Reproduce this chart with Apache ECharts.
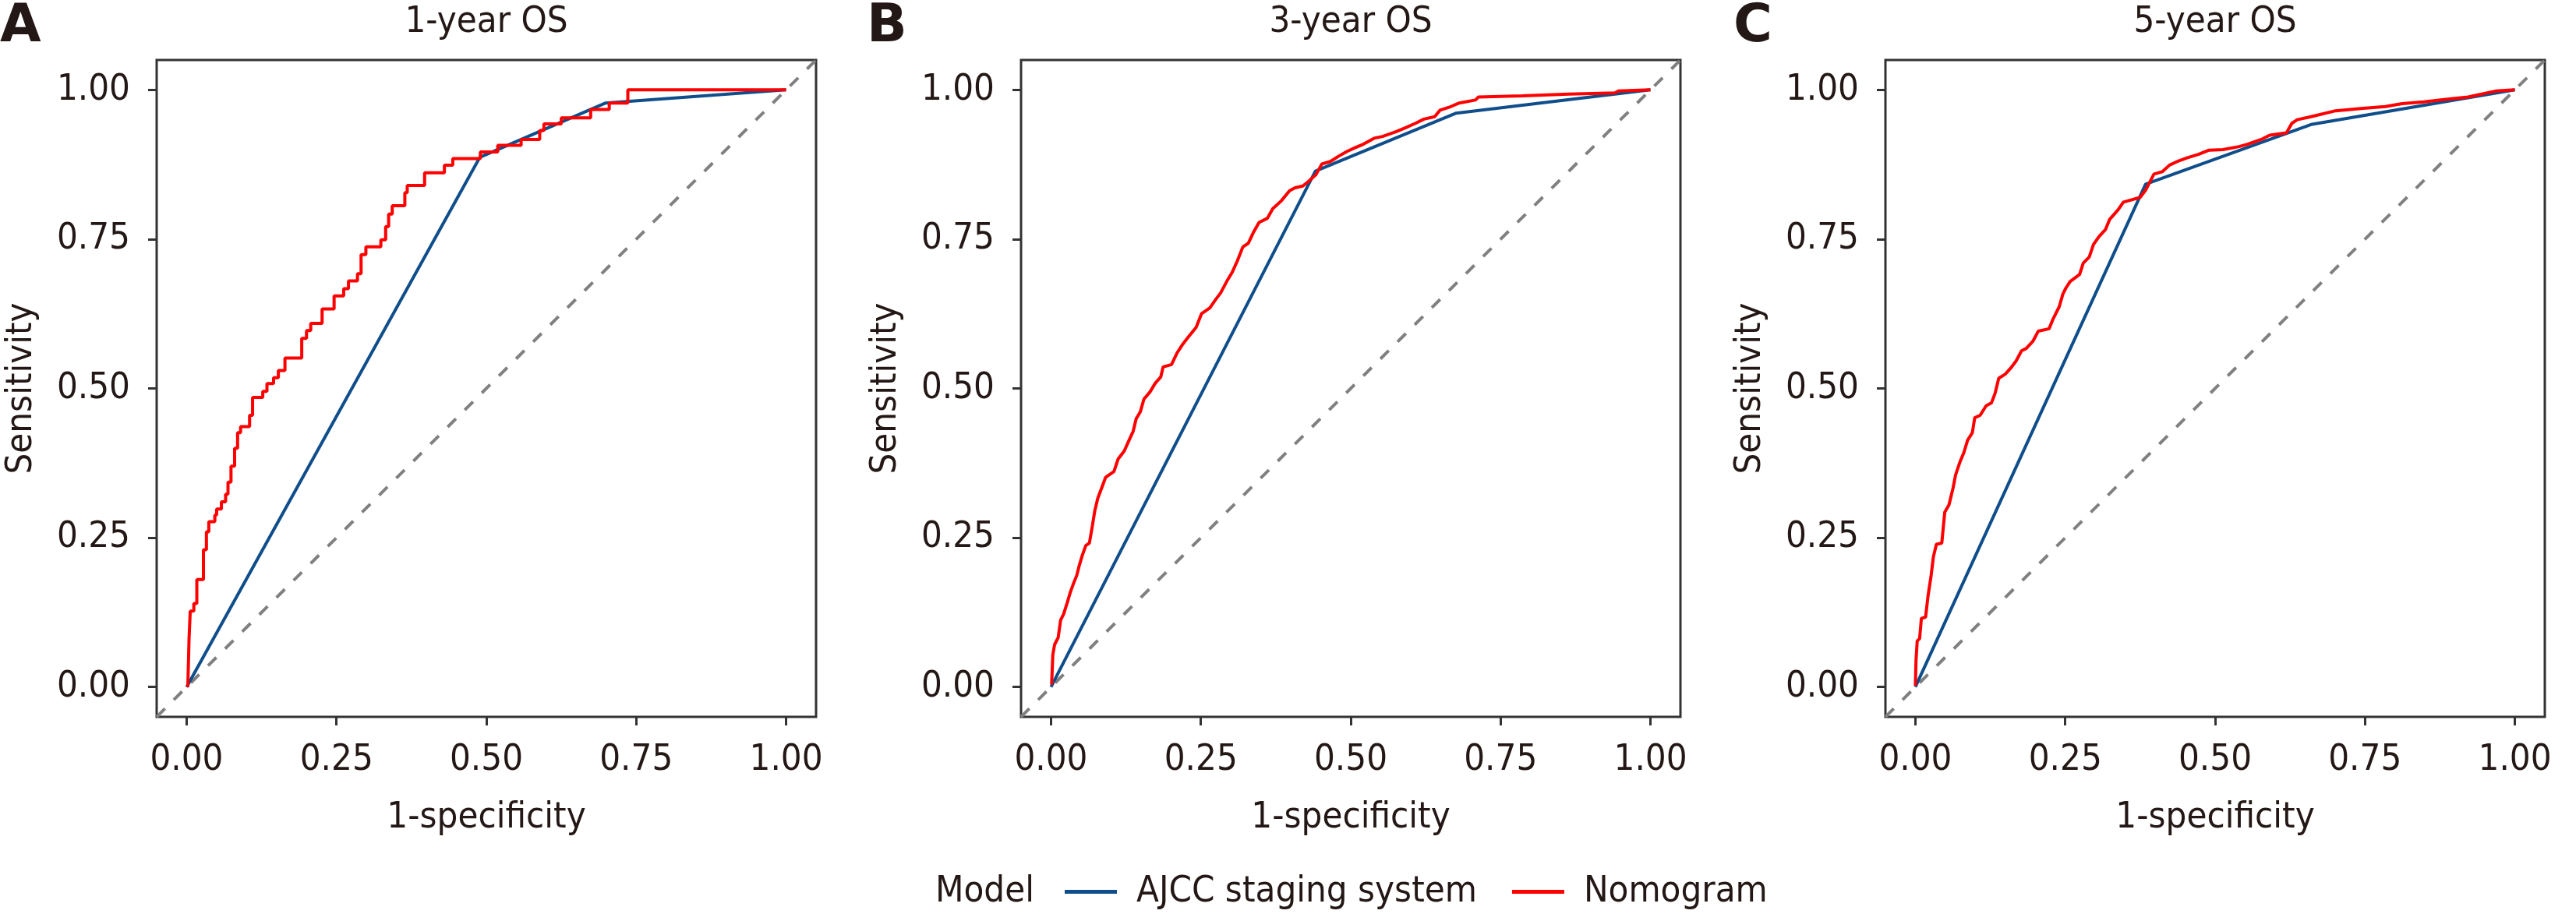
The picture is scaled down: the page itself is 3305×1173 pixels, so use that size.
<!DOCTYPE html>
<html>
<head>
<meta charset="utf-8">
<script src="https://cdn.jsdelivr.net/npm/echarts@6/dist/echarts.min.js"></script>
<style>
html,body{margin:0;padding:0;background:#fff;}
#chart{width:3305px;height:1173px;}
</style>
</head>
<body>
<div id="chart"></div>
<script>
// ---------- data ----------
const tickValues = [0, 0.25, 0.5, 0.75, 1];
const panelTitles = ['1-year OS', '3-year OS', '5-year OS'];
const panelLetters = ['A', 'B', 'C'];
const seriesNames = ['AJCC staging system', 'Nomogram'];
const diagonal = [[-0.05, -0.05], [1.05, 1.05]];

// AJCC staging system (piecewise linear ROC)
const ajcc1y = [[0, 0], [0.489, 0.887], [0.699, 0.978], [1, 1]];
const ajcc3y = [[0, 0], [0.441, 0.864], [0.676, 0.961], [1, 1]];
const ajcc5y = [[0, 0], [0.384, 0.842], [0.660, 0.942], [1, 1]];

// Nomogram 1-year (step points: x where the rise happens, y after the rise)
const nomo1y = [
  [0.002, 0], [0.004, 0.08], [0.006, 0.127], [0.012, 0.14], [0.017, 0.18], [0.028, 0.23],
  [0.033, 0.26], [0.037, 0.277], [0.047, 0.288], [0.050, 0.298], [0.058, 0.31], [0.065, 0.323],
  [0.069, 0.343], [0.074, 0.37], [0.080, 0.40], [0.085, 0.426], [0.090, 0.436], [0.105, 0.455],
  [0.110, 0.485], [0.127, 0.495], [0.134, 0.508], [0.145, 0.518], [0.153, 0.53], [0.164, 0.551],
  [0.192, 0.584], [0.200, 0.597], [0.207, 0.609], [0.226, 0.633], [0.246, 0.655], [0.262, 0.667],
  [0.270, 0.68], [0.285, 0.692], [0.291, 0.724], [0.299, 0.737], [0.324, 0.749], [0.332, 0.771],
  [0.337, 0.792], [0.343, 0.806], [0.364, 0.828], [0.368, 0.84], [0.397, 0.861], [0.430, 0.874],
  [0.444, 0.885], [0.490, 0.896], [0.519, 0.907], [0.558, 0.917], [0.589, 0.932], [0.596, 0.943],
  [0.625, 0.953], [0.674, 0.967], [0.705, 0.978], [0.736, 1.0], [1.0, 1.0]
];

// Nomogram 3-year
const nomo3y = [
  [0.001, 0.004], [0.003, 0.054], [0.006, 0.071], [0.012, 0.083], [0.016, 0.112], [0.021, 0.122],
  [0.027, 0.141], [0.032, 0.158], [0.037, 0.172], [0.043, 0.187], [0.047, 0.203], [0.052, 0.220],
  [0.058, 0.237], [0.064, 0.241], [0.069, 0.270], [0.073, 0.295], [0.078, 0.316], [0.084, 0.332],
  [0.091, 0.351], [0.105, 0.361], [0.112, 0.382], [0.122, 0.395], [0.131, 0.415], [0.137, 0.428],
  [0.142, 0.449], [0.149, 0.461], [0.155, 0.482], [0.165, 0.494], [0.174, 0.509], [0.183, 0.519],
  [0.187, 0.536], [0.201, 0.540], [0.210, 0.559], [0.219, 0.573], [0.229, 0.586], [0.242, 0.602],
  [0.251, 0.625], [0.265, 0.635], [0.274, 0.648], [0.283, 0.660], [0.293, 0.679], [0.302, 0.694],
  [0.311, 0.714], [0.320, 0.737], [0.329, 0.743], [0.338, 0.762], [0.347, 0.778], [0.361, 0.785],
  [0.370, 0.801], [0.384, 0.814], [0.398, 0.831], [0.407, 0.836], [0.420, 0.839], [0.430, 0.847],
  [0.442, 0.858], [0.452, 0.876], [0.466, 0.880], [0.480, 0.889], [0.494, 0.897], [0.507, 0.903],
  [0.521, 0.909], [0.539, 0.919], [0.553, 0.922], [0.576, 0.930], [0.590, 0.936], [0.608, 0.944],
  [0.622, 0.951], [0.640, 0.955], [0.649, 0.966], [0.667, 0.972], [0.681, 0.978], [0.708, 0.983],
  [0.713, 0.988], [0.786, 0.990], [0.864, 0.993], [0.941, 0.995], [0.946, 0.998], [1.0, 1.0]
];

// Nomogram 5-year
const nomo5y = [
  [0.000, 0.002], [0.001, 0.044], [0.003, 0.077], [0.007, 0.081], [0.010, 0.115], [0.017, 0.117],
  [0.021, 0.152], [0.026, 0.185], [0.030, 0.218], [0.035, 0.239], [0.044, 0.241], [0.049, 0.293],
  [0.056, 0.305], [0.063, 0.334], [0.067, 0.355], [0.074, 0.376], [0.081, 0.393], [0.087, 0.413],
  [0.095, 0.426], [0.099, 0.451], [0.108, 0.455], [0.118, 0.471], [0.127, 0.476], [0.133, 0.492],
  [0.139, 0.517], [0.150, 0.524], [0.159, 0.534], [0.168, 0.546], [0.177, 0.563], [0.185, 0.567],
  [0.196, 0.579], [0.205, 0.596], [0.223, 0.600], [0.230, 0.617], [0.240, 0.637], [0.246, 0.658],
  [0.251, 0.668], [0.258, 0.679], [0.274, 0.691], [0.280, 0.710], [0.290, 0.720], [0.297, 0.741],
  [0.306, 0.754], [0.317, 0.766], [0.324, 0.783], [0.338, 0.799], [0.347, 0.812], [0.361, 0.816],
  [0.375, 0.820], [0.384, 0.832], [0.398, 0.859], [0.412, 0.863], [0.424, 0.874], [0.439, 0.881],
  [0.453, 0.886], [0.472, 0.892], [0.490, 0.899], [0.513, 0.900], [0.540, 0.905], [0.554, 0.909],
  [0.577, 0.917], [0.591, 0.924], [0.619, 0.928], [0.628, 0.944], [0.637, 0.950], [0.660, 0.955],
  [0.701, 0.965], [0.747, 0.969], [0.784, 0.972], [0.812, 0.977], [0.848, 0.980], [0.885, 0.984],
  [0.922, 0.988], [0.954, 0.995], [0.968, 0.998], [1.0, 1.0]
];

const ajccData = [ajcc1y, ajcc3y, ajcc5y];
const nomoData = [nomo1y, nomo3y, nomo5y];
const nomoStep = ['end', false, false];

// ---------- styling / layout ----------
const FONT = '"DejaVu Sans Condensed", "Noto Sans", sans-serif';
const TEXT = '#231815';
const AXISC = '#333333';
const BLUE = '#104E8B';
const RED = '#FF0000';
const GRID_LEFT = [201, 1310, 2419];
const GRID_TOP = 77, GRID_W = 846, GRID_H = 843;

const grids = [], xAxes = [], yAxes = [], series = [], titles = [], graphics = [];
for (let i = 0; i < 3; i++) {
  grids.push({
    left: GRID_LEFT[i], top: GRID_TOP, width: GRID_W, height: GRID_H,
    show: true, borderColor: AXISC, borderWidth: 3, backgroundColor: '#fff'
  });
  const axisCommon = {
    type: 'value', min: -0.05, max: 1.05, gridIndex: i,
    axisLine: { show: false, onZero: false },
    axisTick: { show: true, customValues: tickValues, length: 11, lineStyle: { color: AXISC, width: 3 } },
    axisLabel: { customValues: tickValues, formatter: v => v.toFixed(2), color: TEXT, fontSize: 47, fontFamily: FONT },
    splitLine: { show: false },
    nameLocation: 'middle',
    nameTextStyle: { color: TEXT, fontSize: 47, fontFamily: FONT }
  };
  xAxes.push(Object.assign({}, axisCommon, {
    name: '1-specificity', nameGap: 106, position: 'bottom',
    axisLabel: Object.assign({}, axisCommon.axisLabel, { margin: 32 })
  }));
  yAxes.push(Object.assign({}, axisCommon, {
    name: 'Sensitivity', nameGap: 150, position: 'left',
    axisLabel: Object.assign({}, axisCommon.axisLabel, { margin: 34 })
  }));
  series.push({
    type: 'line', xAxisIndex: i, yAxisIndex: i, data: diagonal, showSymbol: false, silent: true,
    lineStyle: { color: '#808080', width: 4, type: [15, 16] }, clip: true, z: 1
  });
  series.push({
    name: seriesNames[0], type: 'line', xAxisIndex: i, yAxisIndex: i, data: ajccData[i], showSymbol: false,
    lineStyle: { color: BLUE, width: 4 }, itemStyle: { color: BLUE }, z: 2
  });
  series.push({
    name: seriesNames[1], type: 'line', xAxisIndex: i, yAxisIndex: i, data: nomoData[i], showSymbol: false,
    step: nomoStep[i], lineStyle: { color: RED, width: 4 }, itemStyle: { color: RED }, z: 3
  });
  titles.push({
    text: panelTitles[i], left: GRID_LEFT[i] + GRID_W / 2, top: 5, textAlign: 'center', padding: 0,
    textStyle: { color: TEXT, fontSize: 47, fontWeight: 'normal', fontFamily: FONT }
  });
}
const letterX = [0, 1112, 2224];
for (let i = 0; i < 3; i++) {
  graphics.push({
    type: 'text', x: letterX[i], y: 35,
    style: { text: panelLetters[i], fill: '#231815', font: 'bold 68px "DejaVu Sans", sans-serif', textVerticalAlign: 'middle' }
  });
}
graphics.push({
  type: 'text', x: 1200, y: 1145,
  style: { text: 'Model', fill: TEXT, font: '47px ' + FONT, textVerticalAlign: 'middle' }
});

const option = {
  backgroundColor: '#ffffff',
  animation: false,
  title: titles,
  grid: grids,
  xAxis: xAxes,
  yAxis: yAxes,
  series: series,
  legend: {
    data: seriesNames, left: 1366, top: 1121, padding: 0, itemGap: 45,
    itemWidth: 67, itemHeight: 5, icon: 'rect',
    textStyle: { color: TEXT, fontSize: 47, fontFamily: FONT, padding: [0, 0, 0, 20] }
  },
  graphic: graphics
};
const chart = echarts.init(document.getElementById('chart'), null, { renderer: 'canvas' });
chart.setOption(option);
</script>
</body>
</html>
